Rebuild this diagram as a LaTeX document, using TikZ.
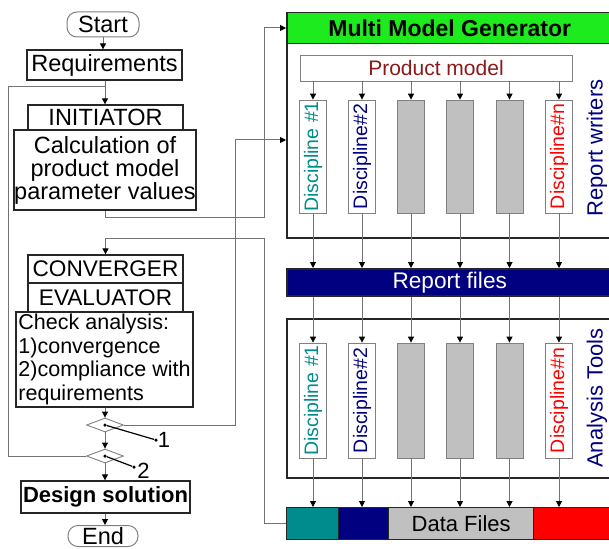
\documentclass[tikz,border=0pt]{standalone}
\usepackage{fontspec}
\setmainfont{Liberation Sans}
\usetikzlibrary{arrows.meta,shapes.geometric}
\definecolor{mmgreen}{RGB}{30,235,30}
\definecolor{navyc}{RGB}{0,0,128}
\definecolor{tealc}{RGB}{0,140,140}
\definecolor{grayc}{RGB}{192,192,192}
\definecolor{redc}{RGB}{255,0,0}
\definecolor{pmred}{RGB}{140,25,25}
\newcommand\myF{\fontsize{22}{23}\selectfont}
\newcommand\myL{\fontsize{23.5}{23}\selectfont}
\newcommand\myM{\fontsize{22.6}{23}\selectfont}
\newcommand\myS{\fontsize{21.5}{23.5}\selectfont}
\newcommand\myD{\fontsize{19.5}{19.5}\selectfont}
\begin{document}
\begin{tikzpicture}[x=1pt,y=-1pt,
  fbox/.style={draw=black!85, line width=1.3pt, inner sep=0pt, font=\myF, align=center},
  term/.style={draw=black!50, line width=1pt, rounded corners=10pt, inner sep=0pt, font=\myL},
  conn/.style={draw=black!55, line width=1pt},
  arr/.style={conn, -{Triangle[length=6pt,width=6pt,color=black]}},
  col/.style={draw=black!50, line width=0.8pt, minimum width=27pt, inner sep=0pt, font=\myD},
  colg/.style={col, fill=grayc},
  dia/.style={diamond, draw=black!50, line width=0.9pt, minimum width=37pt, minimum height=14pt, inner sep=0pt},
  dot/.style={circle, fill=black, inner sep=0pt, minimum size=3.5pt},
  bigbox/.style={draw=black!85, line width=1.5pt, anchor=north west, minimum width=326pt, inner sep=0pt},
  side/.style={rotate=90, text=navyc, font=\myF, inner sep=0pt}
]
\useasboundingbox (0,0) rectangle (609,548);

% ---------- left flow chart ----------
\node[term, minimum width=72pt, minimum height=25pt] (start) at (103,24.5) {Start};
\node[fbox, font=\myL, minimum width=155pt, minimum height=30pt] (req) at (104.5,65) {Requirements};
\node[fbox, font=\myL, minimum width=155pt, minimum height=25pt] (init) at (105.5,117.5) {INITIATOR};
\node[fbox, font=\myL, minimum width=182pt, minimum height=80pt] (calc) at (105,170) {Calculation of\\product model\\parameter values};
\node[fbox, font=\myM, minimum width=155pt, minimum height=28pt] (conv) at (105.5,269) {CONVERGER};
\node[fbox, font=\myM, minimum width=155pt, minimum height=29pt] (eval) at (105.5,297.5) {EVALUATOR};
\node[fbox, font=\myS, minimum width=177pt, minimum height=95pt, align=left] (check) at (104.5,359.5) {Check analysis:\\1)convergence\\2)compliance with\\requirements};
\node[dia] (d1) at (105,425) {};
\node[dia] (d2) at (105,456) {};
\node[fbox, font=\myF\bfseries, minimum width=169pt, minimum height=32pt] (des) at (105.5,497) {Design solution};
\node[term, minimum width=70pt, minimum height=21pt] (end) at (103,536) {End};

\node[dot] (c1) at (d1.center) {};
\node[dot] (e1) at (156,440) {};
\node[dot] (c2) at (d2.center) {};
\node[dot] (e2) at (134,467) {};
\draw[line width=1.2pt] (c1) -- (e1);
\draw[line width=1.2pt] (c2) -- (e2);
\node[font=\myF, inner sep=0pt] (l1) at (164,440) {1};
\node[font=\myF, inner sep=0pt] (l2) at (143.5,471) {2};

\draw[arr] (start.south) -- (start.south |- req.north);
\draw[arr] (req.south -| d1) -- (init.north -| d1);
\draw[arr] (check.south -| d1) -- (d1.north);
\draw[arr] (d1.south) -- (d2.north);
\draw[arr] (d2.south) -- (des.north -| d2);
\draw[arr] (des.south -| d2) -- (end.north -| d2);

% ---------- right blocks ----------
\node[bigbox, minimum height=225pt] (mmg) at (286,12) {};
\node[bigbox, fill=mmgreen, minimum height=31pt, font=\fontsize{23}{23}\selectfont\bfseries] (hdr) at (286,12) {Multi Model Generator};
\node[draw=black!50, line width=0.8pt, minimum width=272pt, minimum height=26pt, inner sep=0pt, font=\fontsize{21}{21}\selectfont, text=pmred] (pm) at (436,68) {Product model};

\node[col, minimum height=113pt, text=tealc] (a1) at (313,156.5) {\rotatebox{90}{Discipline \#1}};
\node[col, minimum height=113pt, text=navyc] (a2) at (362,156.5) {\rotatebox{90}{Discipline\#2}};
\node[colg, minimum height=113pt] (a3) at (411,156.5) {};
\node[colg, minimum height=113pt] (a4) at (460,156.5) {};
\node[colg, minimum height=113pt] (a5) at (509.5,156.5) {};
\node[col, minimum height=113pt, text=redc] (a6) at (559,156.5) {\rotatebox{90}{Discipline\#n}};
\node[side] (rw) at (597,148) {Report writers};

\node[bigbox, fill=navyc, minimum height=27pt, font=\myM, text=white] (rf) at (286,268) {Report files};

\node[bigbox, minimum height=159pt] (at) at (286,318) {};
\node[col, minimum height=115pt, text=tealc] (b1) at (313,400.5) {\rotatebox{90}{Discipline \#1}};
\node[col, minimum height=115pt, text=navyc] (b2) at (362,400.5) {\rotatebox{90}{Discipline\#2}};
\node[colg, minimum height=115pt] (b3) at (411,400.5) {};
\node[colg, minimum height=115pt] (b4) at (460,400.5) {};
\node[colg, minimum height=115pt] (b5) at (509.5,400.5) {};
\node[col, minimum height=115pt, text=redc] (b6) at (559,400.5) {\rotatebox{90}{Discipline\#n}};
\node[side] (atl) at (597,398) {Analysis Tools};

\node[draw=black!85, line width=1.3pt, fill=tealc, anchor=north west, minimum width=52pt, minimum height=32pt, inner sep=0pt] (dt) at (286,507) {};
\node[draw=black!85, line width=1.3pt, fill=navyc, anchor=north west, minimum width=50pt, minimum height=32pt, inner sep=0pt] (dn) at (338,507) {};
\node[draw=black!85, line width=1.3pt, fill=grayc, anchor=north west, minimum width=145pt, minimum height=32pt, inner sep=0pt, font=\myF] (dg) at (388,507) {Data Files};
\node[draw=black!85, line width=1.3pt, fill=redc, anchor=north west, minimum width=80pt, minimum height=32pt, inner sep=0pt] (dr) at (533,507) {};

\foreach \i in {1,...,6}{
  \draw[arr] (pm.south -| a\i) -- (a\i.north);
  \draw[arr] (a\i.south) -- (rf.north -| a\i);
  \draw[arr] (rf.south -| b\i) -- (b\i.north);
  \draw[arr] (b\i.south) -- (dt.north -| b\i);
}

% ---------- loop connectors ----------
\coordinate (j1) at (105,87);
\coordinate (lt) at (8,87);
\draw[conn] (j1) -- (lt) |- (d2.west);

\coordinate (r1) at (264,217);
\coordinate (m1) at (286,28);
\draw[arr] (calc.south) |- (r1) |- (m1);

\coordinate (k2) at (235,140);
\coordinate (m2) at (286,140);
\draw[arr] (d1.east) -| (k2) -- (m2);

\coordinate (k3) at (264,238);
\draw[arr] (dt.west) -| (k3) -| (conv.north);
\end{tikzpicture}
\end{document}
